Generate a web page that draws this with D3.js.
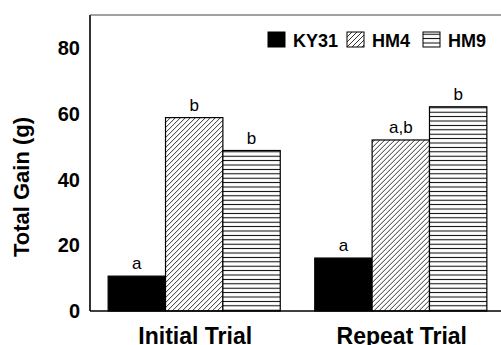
<!DOCTYPE html>
<html>
<head>
<meta charset="utf-8">
<script src="https://cdn.jsdelivr.net/npm/d3@7"></script>
<style>
  body { margin: 0; background: #fff; }
  svg { display: block; font-family: Arial, "Liberation Sans", sans-serif; }
</style>
</head>
<body>
<svg id="chart" width="501" height="345"></svg>
<script>
(function(){
    'use strict';

    var trials = ['Initial Trial', 'Repeat Trial'];
    var lines = ['KY31', 'HM4', 'HM9'];
    var gainKY31 = [10.6, 16.1];
    var gainHM4 = [58.8, 52.0];
    var gainHM9 = [48.8, 62.1];
    var lettersKY31 = ['a', 'a'];
    var lettersHM4 = ['b', 'a,b'];
    var lettersHM9 = ['b', 'b'];
    var yTicks = [0, 20, 40, 60, 80];

    var series = [
        {name: 'KY31', values: gainKY31, letters: lettersKY31, fill: '#000'},
        {name: 'HM4', values: gainHM4, letters: lettersHM4, fill: 'url(#diag)'},
        {name: 'HM9', values: gainHM9, letters: lettersHM9, fill: 'url(#horiz)'}
    ];

    var svg = d3.select('#chart');
    var left = 90, right = 501, top = 15, bottom = 311;

    var defs = svg.append('defs');
    var diag = defs.append('pattern').attr('id', 'diag')
        .attr('patternUnits', 'userSpaceOnUse').attr('width', 5).attr('height', 5);
    diag.append('rect').attr('width', 5).attr('height', 5).attr('fill', '#fff');
    diag.append('path').attr('d', 'M0,5L5,0M-1,1L1,-1M4,6L6,4')
        .attr('stroke', '#000').attr('stroke-width', 0.8);

    var horiz = defs.append('pattern').attr('id', 'horiz')
        .attr('patternUnits', 'userSpaceOnUse').attr('width', 10).attr('height', 4.4);
    horiz.append('rect').attr('width', 10).attr('height', 4.4).attr('fill', '#fff');
    horiz.append('line').attr('x1', 0).attr('x2', 10).attr('y1', 2.2).attr('y2', 2.2)
        .attr('stroke', '#000').attr('stroke-width', 1);

    var y = d3.scaleLinear().domain([0, 90]).range([bottom, top]);

    var x0 = d3.scaleBand().domain(trials).range([91, 504])
        .paddingInner(0.167).paddingOuter(0.083);
    var x1 = d3.scaleBand().domain(lines).range([0, x0.bandwidth()]);

    // frame: left axis, top line, baseline
    svg.append('line').attr('x1', left).attr('x2', left).attr('y1', top).attr('y2', bottom)
        .attr('stroke', '#000').attr('stroke-width', 1.6);
    svg.append('line').attr('x1', left).attr('x2', right).attr('y1', top).attr('y2', top)
        .attr('stroke', '#444').attr('stroke-width', 1);

    // y tick labels
    svg.selectAll('.ytick').data(yTicks).enter().append('text')
        .attr('class', 'ytick')
        .attr('x', 80).attr('y', function(d) { return y(d); })
        .attr('dy', '0.36em').attr('text-anchor', 'end')
        .style('font-size', '20px').style('font-weight', 'bold')
        .text(function(d) { return d; });

    svg.append('text')
        .attr('transform', 'translate(29,187) rotate(-90)')
        .attr('text-anchor', 'middle')
        .style('font-size', '22px').style('font-weight', 'bold')
        .text('Total Gain (g)');

    var groups = svg.selectAll('.grp').data(trials).enter().append('g')
        .attr('class', 'grp')
        .attr('transform', function(d) { return 'translate(' + x0(d) + ',0)'; });

    groups.selectAll('rect').data(function(d, i) {
            return series.map(function(s) { return {s: s, v: s.values[i], l: s.letters[i]}; });
        }).enter().append('rect')
        .attr('x', function(d) { return x1(d.s.name); })
        .attr('width', x1.bandwidth())
        .attr('y', function(d) { return y(d.v); })
        .attr('height', function(d) { return y(0) - y(d.v); })
        .attr('fill', function(d) { return d.s.fill; })
        .attr('stroke', '#000').attr('stroke-width', 1.2);

    groups.selectAll('.lbl').data(function(d, i) {
            return series.map(function(s) { return {s: s, v: s.values[i], l: s.letters[i]}; });
        }).enter().append('text')
        .attr('class', 'lbl')
        .attr('x', function(d) { return x1(d.s.name) + x1.bandwidth() / 2; })
        .attr('y', function(d) { return y(d.v) - 7; })
        .attr('text-anchor', 'middle')
        .style('font-size', '17px')
        .text(function(d) { return d.l; });

    svg.append('line').attr('x1', left).attr('x2', right).attr('y1', bottom).attr('y2', bottom)
        .attr('stroke', '#000').attr('stroke-width', 1.6);

    svg.selectAll('.cat').data(trials).enter().append('text')
        .attr('class', 'cat')
        .attr('x', function(d) { return x0(d) + x0.bandwidth() / 2 + 1; })
        .attr('y', 344)
        .attr('text-anchor', 'middle')
        .style('font-size', '23px').style('font-weight', 'bold')
        .text(function(d) { return d; });

    // legend
    var legendX = [268, 347, 423];
    var legend = svg.selectAll('.leg').data(series).enter().append('g')
        .attr('class', 'leg')
        .attr('transform', function(d, i) { return 'translate(' + legendX[i] + ',32)'; });
    legend.append('rect').attr('width', 17).attr('height', 15)
        .attr('fill', function(d) { return d.fill; })
        .attr('stroke', '#000').attr('stroke-width', 1);
    legend.append('text').attr('x', 25).attr('y', 15)
        .style('font-size', '18px').style('font-weight', 'bold')
        .text(function(d) { return d.name; });
})();
</script>
</body>
</html>
